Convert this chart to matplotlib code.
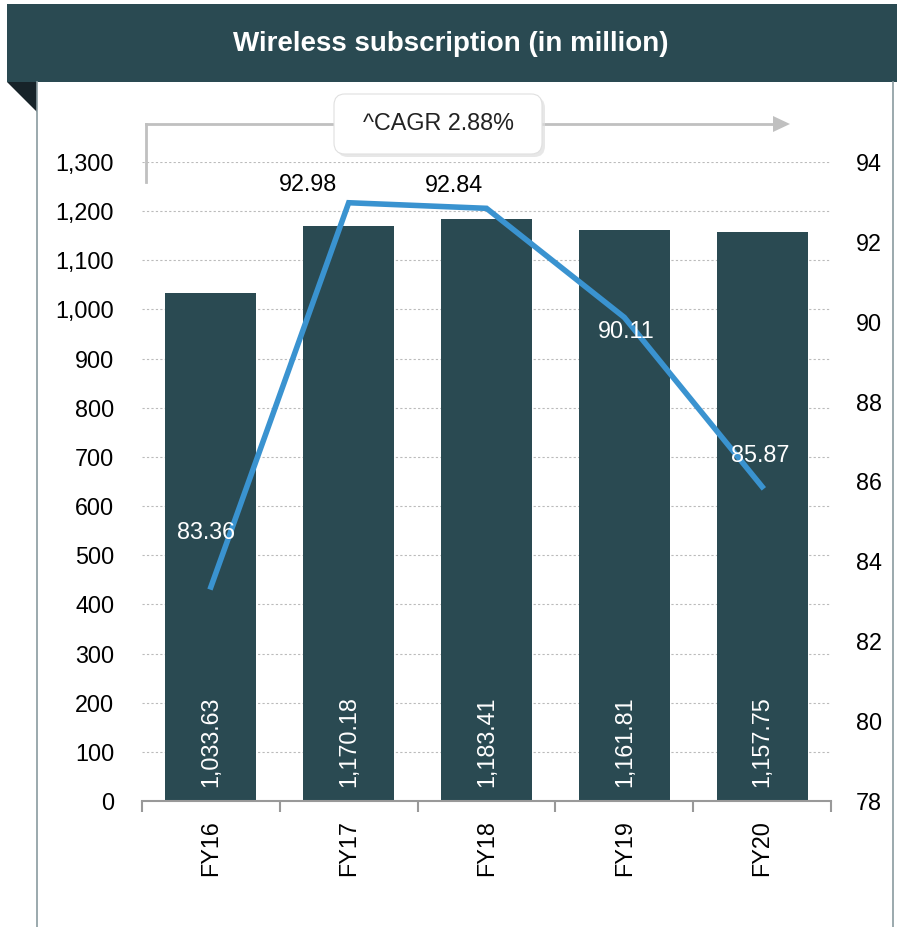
import matplotlib
matplotlib.use("Agg")
import matplotlib.pyplot as plt
from matplotlib.patches import Rectangle, Polygon, FancyBboxPatch
from matplotlib.lines import Line2D

plt.rcParams['font.family'] = ['Liberation Sans', 'DejaVu Sans']

categories = ["FY16", "FY17", "FY18", "FY19", "FY20"]
subscriptions = [1033.63, 1170.18, 1183.41, 1161.81, 1157.75]
teledensity = [83.36, 92.98, 92.84, 90.11, 85.87]
left_ticks = list(range(0, 1301, 100))
right_ticks = list(range(78, 95, 2))
title = "Wireless subscription (in million)"
cagr_text = "^CAGR 2.88%"

W, H = 897, 927
fig = plt.figure(figsize=(W / 100, H / 100), dpi=100)
fig.patch.set_facecolor("white")

def fx(px):
    return px / W

def fy(py):
    return 1 - py / H

HEAD = "#2a4a52"
BAR = "#2a4a52"
LINE = "#3a93d0"
FS = 16.8

# header band
fig.patches.append(Rectangle((fx(7), fy(82)), fx(890), 78 / H, transform=fig.transFigure,
                             facecolor=HEAD, edgecolor="none", zorder=1))
fig.patches.append(Polygon([(fx(7), fy(82)), (fx(37), fy(82)), (fx(37), fy(112))],
                           closed=True, transform=fig.transFigure,
                           facecolor="#172329", edgecolor="none", zorder=1))
fig.lines.append(Line2D([fx(37), fx(37)], [fy(82), fy(927)], transform=fig.transFigure,
                        color="#8a9ba0", lw=1.2))
fig.lines.append(Line2D([fx(893), fx(893)], [fy(82), fy(927)], transform=fig.transFigure,
                        color="#8a9ba0", lw=1.2))
fig.text(fx(451), fy(44), title, color="white", fontsize=20, fontweight="bold",
         ha="center", va="center")

ax = fig.add_axes([fx(142), fy(801), fx(831 - 142), (801 - 162) / H])
x = list(range(len(categories)))
ax.bar(x, subscriptions, width=0.66, color=BAR, zorder=2)
ax.set_xlim(-0.5, len(categories) - 0.5)
ax.set_ylim(0, 1300)
ax.set_yticks(left_ticks)
ax.set_yticklabels([f"{v:,}" for v in left_ticks])
ax.grid(axis="y", color="#bbbbbb", linestyle=(0, (2, 2)), lw=0.8, zorder=0)
ax.set_axisbelow(True)
for s in ["left", "right", "top"]:
    ax.spines[s].set_visible(False)
ax.spines["bottom"].set_color("#999999")
ax.spines["bottom"].set_linewidth(1.5)
ax.tick_params(axis="y", length=0, labelsize=FS, pad=20, colors="black")
ax.set_xticks([i + 0.5 for i in range(-1, len(categories))], minor=False)
ax.set_xticklabels([])
ax.tick_params(axis="x", which="major", length=8, color="#999999", width=1.5)
ax.set_xticks(x, minor=True)
ax.set_xticklabels(categories, minor=True, rotation=90, fontsize=FS)
ax.tick_params(axis="x", which="minor", length=0, pad=14)

for i, v in enumerate(subscriptions):
    ax.text(i, 120, f"{v:,.2f}", rotation=90, color="white", fontsize=FS,
            ha="center", va="center", zorder=3)

ax2 = ax.twinx()
ax2.set_ylim(78, 94)
ax2.set_yticks(right_ticks)
for s in ["left", "right", "top", "bottom"]:
    ax2.spines[s].set_visible(False)
ax2.tick_params(axis="y", length=0, labelsize=FS, pad=18, colors="black")
ax2.plot(x, teledensity, color=LINE, lw=4, solid_joinstyle="miter", zorder=4)

offsets = [(-5, 54), (-41, 18), (-33, 23), (2, -14), (-2, 31)]
for i, (v, (dx, dy)) in enumerate(zip(teledensity, offsets)):
    col = "black" if i in (1, 2) else "white"
    ax2.annotate(f"{v:.2f}", (i, v), xytext=(dx, dy), textcoords="offset pixels",
                 ha="center", va="center", fontsize=FS, color=col, zorder=5)

# CAGR arrow
fig.lines.append(Line2D([fx(146), fx(146)], [fy(124), fy(182)], transform=fig.transFigure,
                        color="#c0c0c0", lw=2))
fig.lines.append(Line2D([fx(146), fx(775)], [fy(124), fy(124)], transform=fig.transFigure,
                        color="#c0c0c0", lw=2))
fig.patches.append(Polygon([(fx(773), fy(116)), (fx(790), fy(124)), (fx(773), fy(132))],
                           closed=True, transform=fig.transFigure,
                           facecolor="#c0c0c0", edgecolor="none"))
fig.patches.append(FancyBboxPatch((fx(337), fy(157)), fx(208), 60 / H,
                                  boxstyle="round,pad=0,rounding_size=0.012",
                                  transform=fig.transFigure, facecolor="#dddddd",
                                  edgecolor="none", zorder=5, alpha=0.7))
fig.patches.append(FancyBboxPatch((fx(334), fy(154)), fx(208), 60 / H,
                                  boxstyle="round,pad=0,rounding_size=0.012",
                                  transform=fig.transFigure, facecolor="white",
                                  edgecolor="#e0e0e0", lw=0.8, zorder=6))
fig.text(fx(438), fy(124), cagr_text, fontsize=FS, ha="center", va="center",
         color="#222222", zorder=7)

fig.savefig("out.png", dpi=100)
